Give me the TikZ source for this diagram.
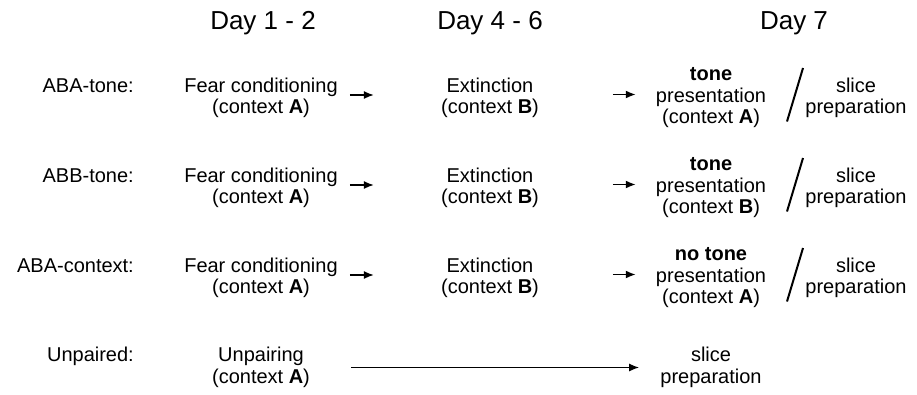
\documentclass[tikz,border=0pt]{standalone}
\usepackage{fontspec}
\setmainfont{Liberation Sans}
\usetikzlibrary{arrows.meta, positioning}

\begin{document}
\begin{tikzpicture}[x=1pt, y=-1pt,
  every node/.style={inner sep=0pt, font=\fontsize{20}{21.5}\selectfont},
  daylabel/.style={font=\fontsize{26}{28}\selectfont, anchor=base},
  grouplabel/.style={anchor=base east},
  stage/.style={align=center},
  arr/.style={-{Latex[length=10pt,width=8pt]}, line width=1.6pt},
  divider/.style={line width=2pt}]

\useasboundingbox (0,0) rectangle (917,394);

% Day headers
\node[daylabel] (d12) at (263,29) {Day 1 - 2};
\node[daylabel] (d46) at (490,29) {Day 4 - 6};
\node[daylabel] (d7) at (794,29) {Day 7};

% Protocols with a tone / context test on day 7
\foreach \r/\grp/\cue/\ctx in {1/ABA-tone/tone/A, 2/ABB-tone/tone/B, 3/ABA-context/no tone/A}{
  \pgfmathsetmacro{\y}{98+(\r-1)*90}
  \node[grouplabel] (grp\r) at (134,\y-5.6) {\grp:};
  \node[stage] (fear\r) at (261,\y) {Fear conditioning\\(context \textbf{A})};
  \node[stage] (ext\r) at (490,\y) {Extinction\\(context \textbf{B})};
  \node[stage] (test\r) at (711,\y) {\textbf{\cue}\\presentation\\(context \textbf{\ctx})};
  \node[stage] (slice\r) at (856,\y) {slice\\preparation};
  \draw[arr] ([shift={(12pt,3pt)}]fear\r.east) -- ++(24,0);
  \draw[arr] ([shift={(-43pt,3.5pt)}]test\r.west) -- ++(23,0);
  \draw[divider] (787,\y+23.5) -- (803,\y-30);
}

% Unpaired control
\node[grouplabel] (grp4) at (134,361.9) {Unpaired:};
\node[stage] (unpair) at (261,367.5) {Unpairing\\(context \textbf{A})};
\node[stage] (slice4) at (711,367.5) {slice\\preparation};
\draw[arr] ([xshift=41pt]unpair.east) -- ([xshift=-21pt]slice4.west);

\end{tikzpicture}
\end{document}
